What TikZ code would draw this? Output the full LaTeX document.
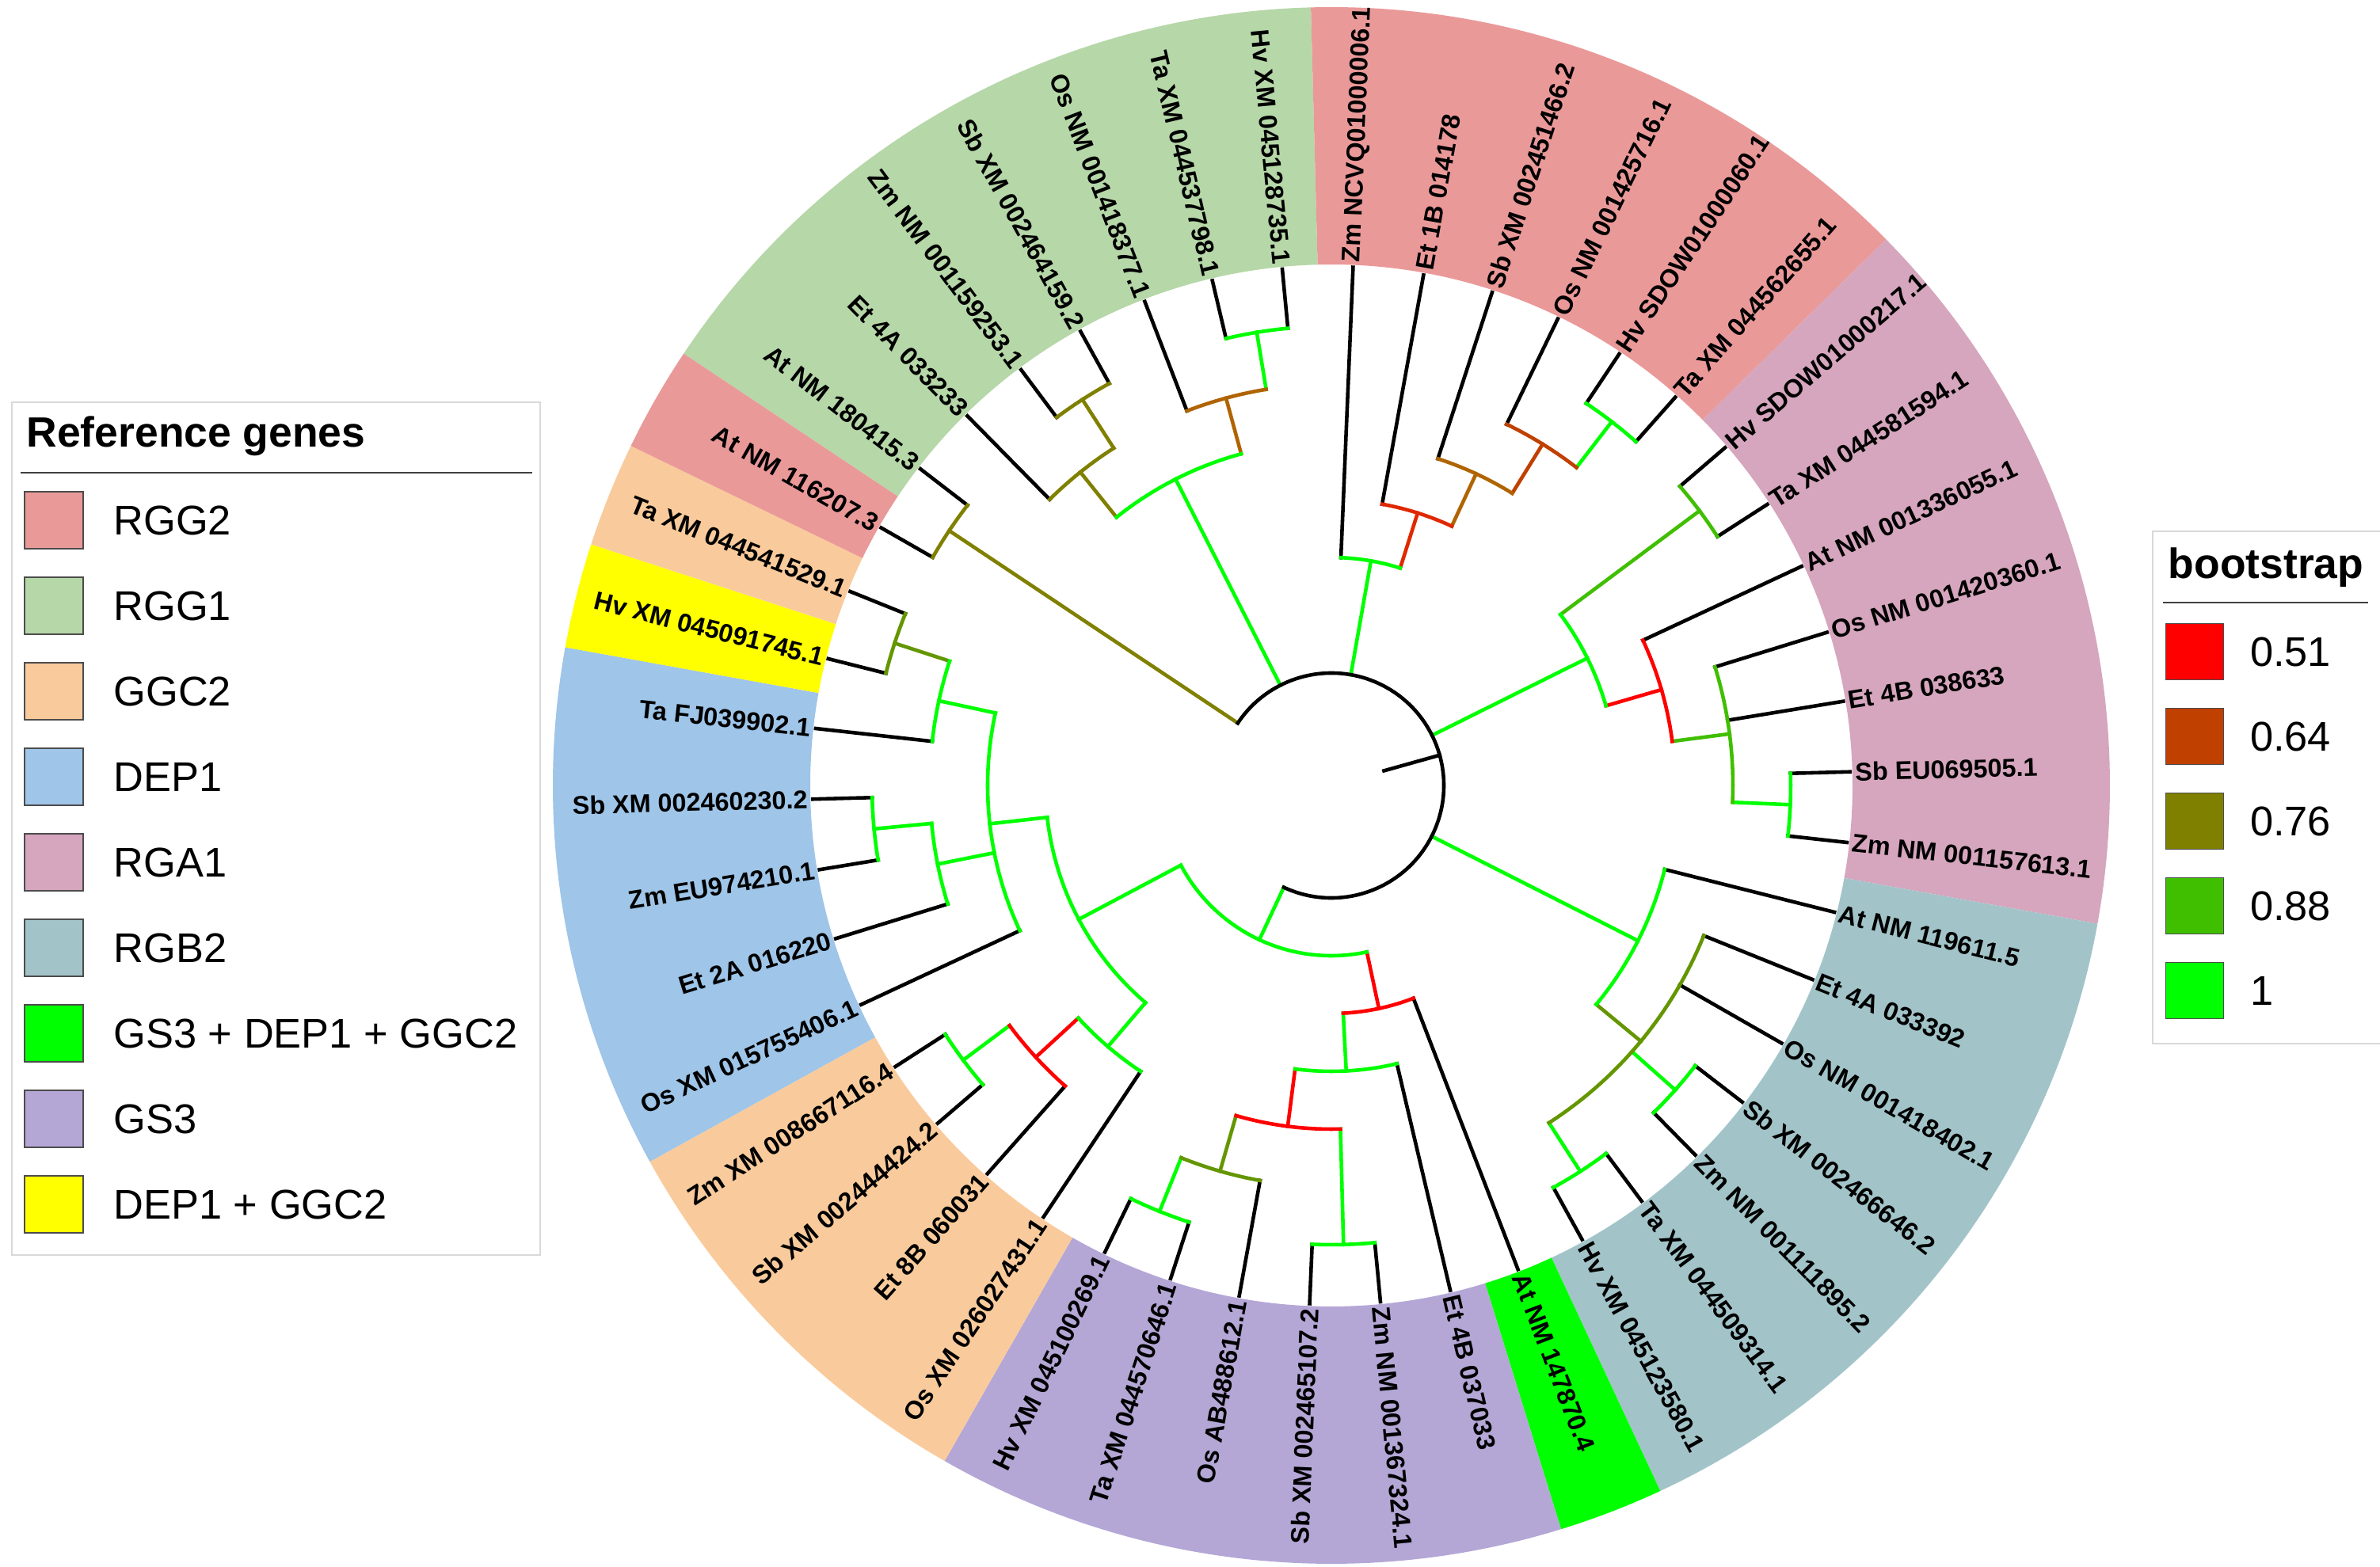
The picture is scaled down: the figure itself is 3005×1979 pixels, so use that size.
\documentclass[tikz,border=0pt]{standalone}
\usepackage{fontspec}
\setmainfont{Liberation Sans}
\usetikzlibrary{positioning}

\definecolor{rggtwo}{HTML}{EA9999}
\definecolor{rggone}{HTML}{B6D7A8}
\definecolor{ggctwo}{HTML}{F9CB9C}
\definecolor{depone}{HTML}{9FC5E8}
\definecolor{rgaone}{HTML}{D5A6BD}
\definecolor{rgbtwo}{HTML}{A2C4C9}
\definecolor{gsdg}{HTML}{00FF00}
\definecolor{gsthree}{HTML}{B4A7D6}
\definecolor{depggc}{HTML}{FFFF00}

\definecolor{bsred}{RGB}{255,0,0}
\definecolor{bsredor}{RGB}{224,40,0}
\definecolor{bsrust}{RGB}{192,64,0}
\definecolor{bsbrown}{RGB}{176,100,0}
\definecolor{bsolive}{RGB}{128,128,0}
\definecolor{bsolgr}{RGB}{100,150,0}
\definecolor{bslime}{RGB}{64,191,0}
\definecolor{bsgreen}{RGB}{0,255,0}

\tikzset{
  tree/.style={line width=1.3pt, line cap=rect},
  taxon/.style={inner sep=0pt, font=\fontsize{9.2}{11}\selectfont\bfseries},
  keybox/.style={draw=black!15, line width=0.6pt},
  keyrule/.style={draw=black!75, line width=0.6pt},
  swatch/.style={draw=black!70, line width=0.5pt, minimum width=0.74cm, minimum height=0.72cm, inner sep=0pt},
  keytitle/.style={inner sep=0pt, anchor=base west, font=\fontsize{15.2}{18}\selectfont\bfseries},
  keytext/.style={inner sep=0pt, font=\fontsize{14.9}{18}\selectfont},
}

\newcommand{\genesector}[3]{\fill[#1] (#2:658) arc[start angle=#2, end angle=#3, radius=658] -- (#3:983) arc[start angle=#3, end angle=#2, radius=983] -- cycle;}
\newcommand{\clbranch}[5]{%
  \coordinate (#1-in) at (#2:#3);
  \coordinate (#1) at (#2:#4);
  \draw[tree, #5] (#1-in) -- (#1);}
\newcommand{\taxonR}[4]{%
  \clbranch{#1}{#2}{#3}{655}{black}
  \node[taxon, anchor=west, rotate=#2] (#1-lab) at (#2:661) {#4};}
\newcommand{\taxonL}[4]{%
  \clbranch{#1}{#2}{#3}{655}{black}
  \node[taxon, anchor=east, rotate=#2+180] (#1-lab) at (#2:661) {#4};}
\newcommand{\cladearc}[5]{\draw[tree, #1] (#2-in) arc[start angle=#3, end angle=#4, radius=#5];}

\begin{document}
\begin{tikzpicture}[x=0.01cm, y=0.01cm]
    \useasboundingbox (-1681,-987) rectangle (1324,992);

    \genesector{rggone}{91.51}{146.30}
    \genesector{rggtwo}{44.56}{91.51}
    \genesector{rgaone}{-10.23}{44.56}
    \genesector{rgbtwo}{-65.01}{-10.23}
    \genesector{gsdg}{-72.84}{-65.01}
    \genesector{gsthree}{-119.79}{-72.84}
    \genesector{ggctwo}{-151.10}{-119.79}
    \genesector{depone}{-190.23}{-151.10}
    \genesector{depggc}{-198.05}{-190.23}
    \genesector{ggctwo}{-205.87}{-198.05}
    \genesector{rggtwo}{-213.70}{-205.87}

    \clbranch{root}{15.64}{69}{142}{black}
    \clbranch{nat}{146.30}{142}{580}{bsolive}
    \clbranch{nAE}{116.95}{142}{434}{bsgreen}
    \clbranch{nAF}{128.69}{434}{507}{bsolive}
    \clbranch{nAH}{122.82}{507}{580}{bsolive}
    \clbranch{nAG}{105.21}{434}{507}{bsbrown}
    \clbranch{nAI}{99.345}{507}{580}{bsgreen}
    \clbranch{nA}{80.02}{142}{288}{bsgreen}
    \clbranch{nB}{72.435}{288}{361}{bsredor}
    \clbranch{nC}{65.10}{361}{434}{bsbrown}
    \clbranch{nD}{58.25}{434}{507}{bsrust}
    \clbranch{nE}{52.385}{507}{580}{bsgreen}
    \clbranch{nF}{26.46}{142}{361}{bsgreen}
    \clbranch{nG}{36.73}{361}{580}{bslime}
    \clbranch{nH}{16.19}{361}{434}{bsred}
    \clbranch{nI}{7.385}{434}{507}{bslime}
    \clbranch{nJ}{-2.40}{507}{580}{bsgreen}
    \clbranch{nK}{-26.86}{142}{434}{bsgreen}
    \clbranch{nL}{-39.58}{434}{507}{bsolgr}
    \clbranch{nM}{-41.53}{507}{580}{bsgreen}
    \clbranch{nN}{-57.185}{507}{580}{bsgreen}
    \clbranch{nO}{-115.02}{142}{215}{bsgreen}
    \clbranch{nP}{-152.07}{215}{361}{bsgreen}
    \clbranch{nQ}{-77.97}{215}{288}{bsred}
    \clbranch{nR}{-87.02}{288}{361}{bsgreen}
    \clbranch{nS}{-97.29}{361}{434}{bsred}
    \clbranch{nT}{-106.10}{434}{507}{bsolgr}
    \clbranch{nU}{-88.485}{434}{580}{bsgreen}
    \clbranch{nV}{-111.965}{507}{580}{bsgreen}
    \clbranch{nW}{-173.595}{361}{434}{bsgreen}
    \clbranch{nX}{-130.55}{361}{434}{bsgreen}
    \clbranch{nY}{-137.40}{434}{507}{bsred}
    \clbranch{nZ}{-143.27}{507}{580}{bsgreen}
    \clbranch{nAA}{-192.18}{434}{507}{bsgreen}
    \clbranch{nAB}{-168.70}{434}{507}{bsgreen}
    \clbranch{nAC}{-174.575}{507}{580}{bsgreen}
    \clbranch{nAD}{-198.05}{507}{580}{bsolgr}

    \taxonR{t1}{87.60}{288}{Zm NCVQ01000006.1}
    \taxonR{t2}{79.77}{361}{Et 1B 014178}
    \taxonR{t3}{71.95}{434}{Sb XM 002451466.2}
    \taxonR{t4}{64.12}{507}{Os NM 001425716.1}
    \taxonR{t5}{56.30}{580}{Hv SDOW01000060.1}
    \taxonR{t6}{48.47}{580}{Ta XM 044562655.1}
    \taxonR{t7}{40.64}{580}{Hv SDOW01000217.1}
    \taxonR{t8}{32.82}{580}{Ta XM 044581594.1}
    \taxonR{t9}{24.99}{434}{At NM 001336055.1}
    \taxonR{t10}{17.17}{507}{Os NM 001420360.1}
    \taxonR{t11}{9.34}{507}{Et 4B 038633}
    \taxonR{t12}{1.51}{580}{Sb EU069505.1}
    \taxonR{t13}{-6.31}{580}{Zm NM 001157613.1}
    \taxonR{t14}{-14.14}{434}{At NM 119611.5}
    \taxonR{t15}{-21.97}{507}{Et 4A 033392}
    \taxonR{t16}{-29.79}{507}{Os NM 001418402.1}
    \taxonR{t17}{-37.62}{580}{Sb XM 002466646.2}
    \taxonR{t18}{-45.44}{580}{Zm NM 001111895.2}
    \taxonR{t19}{-53.27}{580}{Ta XM 044509314.1}
    \taxonR{t20}{-61.10}{580}{Hv XM 045123580.1}
    \taxonR{t21}{-68.92}{288}{At NM 147870.4}
    \taxonR{t22}{-76.75}{361}{Et 4B 037033}
    \taxonR{t23}{-84.57}{580}{Zm NM 001367324.1}
    \taxonL{t24}{-92.40}{580}{Sb XM 002465107.2}
    \taxonL{t25}{-100.23}{507}{Os AB488612.1}
    \taxonL{t26}{-108.05}{580}{Ta XM 044570646.1}
    \taxonL{t27}{-115.88}{580}{Hv XM 045100269.1}
    \taxonL{t28}{-123.70}{434}{Os XM 026027431.1}
    \taxonL{t29}{-131.53}{507}{Et 8B 060031}
    \taxonL{t30}{-139.36}{580}{Sb XM 002444424.2}
    \taxonL{t31}{-147.18}{580}{Zm XM 008667116.4}
    \taxonL{t32}{-155.01}{434}{Os XM 015755406.1}
    \taxonL{t33}{-162.83}{507}{Et 2A 016220}
    \taxonL{t34}{-170.66}{580}{Zm EU974210.1}
    \taxonL{t35}{-178.49}{580}{Sb XM 002460230.2}
    \taxonL{t36}{173.69}{507}{Ta FJ039902.1}
    \taxonL{t37}{165.86}{580}{Hv XM 045091745.1}
    \taxonL{t38}{158.04}{580}{Ta XM 044541529.1}
    \taxonL{t39}{150.21}{580}{At NM 116207.3}
    \taxonL{t40}{142.39}{580}{At NM 180415.3}
    \taxonL{t41}{134.56}{507}{Et 4A 033233}
    \taxonL{t42}{126.73}{580}{Zm NM 001159253.1}
    \taxonL{t43}{118.91}{580}{Sb XM 002464159.2}
    \taxonL{t44}{111.08}{507}{Os NM 001418377.1}
    \taxonL{t45}{103.26}{580}{Ta XM 044537798.1}
    \taxonL{t46}{95.43}{580}{Hv XM 045128735.1}

    \cladearc{black}{nO}{-115.02}{146.30}{142}
    \cladearc{bsolive}{t40}{142.39}{150.21}{580}
    \cladearc{bsgreen}{nAG}{105.21}{128.69}{434}
    \cladearc{bsolive}{nAH}{122.82}{134.56}{507}
    \cladearc{bsolive}{t43}{118.91}{126.73}{580}
    \cladearc{bsbrown}{nAI}{99.345}{111.08}{507}
    \cladearc{bsgreen}{t46}{95.43}{103.26}{580}
    \cladearc{bsgreen}{nB}{72.435}{87.60}{288}
    \cladearc{bsredor}{nC}{65.10}{79.77}{361}
    \cladearc{bsbrown}{nD}{58.25}{71.95}{434}
    \cladearc{bsrust}{nE}{52.385}{64.12}{507}
    \cladearc{bsgreen}{t6}{48.47}{56.30}{580}
    \cladearc{bsgreen}{nH}{16.19}{36.73}{361}
    \cladearc{bslime}{t8}{32.82}{40.64}{580}
    \cladearc{bsred}{nI}{7.385}{24.99}{434}
    \cladearc{bslime}{nJ}{-2.40}{17.17}{507}
    \cladearc{bsgreen}{t13}{-6.31}{1.51}{580}
    \cladearc{bsgreen}{nL}{-39.58}{-14.14}{434}
    \cladearc{bsolgr}{nN}{-57.185}{-21.97}{507}
    \cladearc{bsgreen}{t18}{-45.44}{-37.62}{580}
    \cladearc{bsgreen}{t20}{-61.10}{-53.27}{580}
    \cladearc{bsgreen}{nP}{-152.07}{-77.97}{215}
    \cladearc{bsred}{nR}{-87.02}{-68.92}{288}
    \cladearc{bsgreen}{nS}{-97.29}{-76.75}{361}
    \cladearc{bsred}{nT}{-106.10}{-88.485}{434}
    \cladearc{bsolgr}{nV}{-111.965}{-100.23}{507}
    \cladearc{bsgreen}{t27}{-115.88}{-108.05}{580}
    \cladearc{bsgreen}{t24}{-92.40}{-84.57}{580}
    \cladearc{bsgreen}{nW}{-173.595}{-130.55}{361}
    \cladearc{bsgreen}{nY}{-137.40}{-123.70}{434}
    \cladearc{bsred}{nZ}{-143.27}{-131.53}{507}
    \cladearc{bsgreen}{t31}{-147.18}{-139.36}{580}
    \cladearc{bsgreen}{nAA}{-192.18}{-155.01}{434}
    \cladearc{bsgreen}{nAD}{-198.05}{-186.31}{507}
    \cladearc{bsolgr}{t38}{-201.96}{-194.14}{580}
    \cladearc{bsgreen}{nAC}{-174.575}{-162.83}{507}
    \cladearc{bsgreen}{t35}{-178.49}{-170.66}{580}

    \draw[keybox] (-1666,484) rectangle (-999,-593);
    \node[keytitle] (reftitle) at (-1648,427) {Reference genes};
    \draw[keyrule] (-1655,395) -- (-1009,395);
    \node[swatch, fill=rggtwo] (kRGG2) at (-1613,335) {};
    \node[keytext, right=0.37cm of kRGG2] {RGG2};
    \node[swatch, fill=rggone] (kRGG1) at (-1613,227) {};
    \node[keytext, right=0.37cm of kRGG1] {RGG1};
    \node[swatch, fill=ggctwo] (kGGC2) at (-1613,119) {};
    \node[keytext, right=0.37cm of kGGC2] {GGC2};
    \node[swatch, fill=depone] (kDEP1) at (-1613,11) {};
    \node[keytext, right=0.37cm of kDEP1] {DEP1};
    \node[swatch, fill=rgaone] (kRGA1) at (-1613,-97) {};
    \node[keytext, right=0.37cm of kRGA1] {RGA1};
    \node[swatch, fill=rgbtwo] (kRGB2) at (-1613,-205) {};
    \node[keytext, right=0.37cm of kRGB2] {RGB2};
    \node[swatch, fill=gsdg] (kGDG) at (-1613,-313) {};
    \node[keytext, right=0.37cm of kGDG] {GS3 + DEP1 + GGC2};
    \node[swatch, fill=gsthree] (kGS3) at (-1613,-421) {};
    \node[keytext, right=0.37cm of kGS3] {GS3};
    \node[swatch, fill=depggc] (kDG) at (-1613,-529) {};
    \node[keytext, right=0.37cm of kDG] {DEP1 + GGC2};

    \draw[keybox] (1037,321) rectangle (1340,-326);
    \node[keytitle] (bstitle) at (1056,261) {bootstrap};
    \draw[keyrule] (1050,231) -- (1309,231);
    \node[swatch, fill=bsred, minimum width=0.73cm, minimum height=0.71cm] (b51) at (1090,169) {};
    \node[keytext, right=0.32cm of b51] {0.51};
    \node[swatch, fill=bsrust, minimum width=0.73cm, minimum height=0.71cm] (b64) at (1090,62) {};
    \node[keytext, right=0.32cm of b64] {0.64};
    \node[swatch, fill=bsolive, minimum width=0.73cm, minimum height=0.71cm] (b76) at (1090,-45) {};
    \node[keytext, right=0.32cm of b76] {0.76};
    \node[swatch, fill=bslime, minimum width=0.73cm, minimum height=0.71cm] (b88) at (1090,-152) {};
    \node[keytext, right=0.32cm of b88] {0.88};
    \node[swatch, fill=bsgreen, minimum width=0.73cm, minimum height=0.71cm] (b100) at (1090,-259) {};
    \node[keytext, right=0.32cm of b100] {1};
\end{tikzpicture}
\end{document}
